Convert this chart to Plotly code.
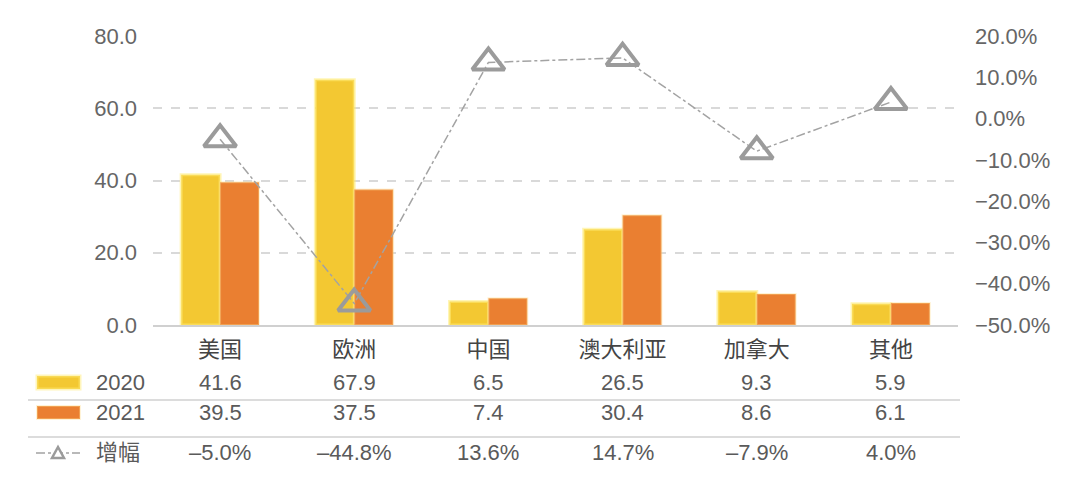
import plotly.graph_objects as go

regions = ['美国', '欧洲', '中国', '澳大利亚', '加拿大', '其他']
sales_2020 = [41.6, 67.9, 6.5, 26.5, 9.3, 5.9]
sales_2021 = [39.5, 37.5, 7.4, 30.4, 8.6, 6.1]
growth = [-5.0, -44.8, 13.6, 14.7, -7.9, 4.0]

YELLOW = '#F3C832'
ORANGE = '#EA7F31'
GRAY = '#A3A3A3'
TEXT = '#5A5A5A'
FONT = 'Liberation Sans, Noto Sans CJK SC, sans-serif'
FS = 22

# the page has an 8px body margin, so the figure is a bit smaller and shifted
OFF = 8
PL, PR, PT, PB = 153, 958, 36, 325   # plot area in page pixels

fig = go.Figure()
fig.add_trace(go.Bar(x=regions, y=sales_2020, name='2020', marker_color=YELLOW,
                     marker_line=dict(color='rgba(255,236,120,0.55)', width=3)))
fig.add_trace(go.Bar(x=regions, y=sales_2021, name='2021', marker_color=ORANGE,
                     marker_line=dict(color='rgba(255,220,140,0.35)', width=2)))
fig.add_trace(go.Scatter(x=regions, y=growth, name='增幅', yaxis='y2', mode='lines+markers',
                         line=dict(color=GRAY, width=1.5, dash='dashdot'),
                         marker=dict(symbol='triangle-up-open', size=28, color='#9B9B9B',
                                     line=dict(width=4, color='#9B9B9B'))))


def paper_y(py):
    return (PB - py) / (PB - PT)


def px_x(px):
    return (px - PL) / (PR - PL)


# table under the chart
rows = [
    (sales_2020, 382, lambda v: f'{v:.1f}'),
    (sales_2021, 412, lambda v: f'{v:.1f}'),
    (growth, 452, lambda v: f'{v:.1f}%'.replace('-', '–')),
]
annotations = []
for values, py, fmt in rows:
    for r, v in zip(regions, values):
        annotations.append(dict(x=r, xref='x', y=paper_y(py), yref='paper', text=fmt(v),
                                yanchor='middle', showarrow=False,
                                font=dict(size=FS, color=TEXT)))

for label, py in [('2020', 382), ('2021', 412), ('增幅', 452)]:
    annotations.append(dict(x=px_x(94), xref='paper', y=paper_y(py), yref='paper',
                            text=label, xanchor='left', yanchor='middle', showarrow=False,
                            font=dict(size=FS, color=TEXT)))

shapes = []
for py in [400, 437]:
    shapes.append(dict(type='line', xref='paper', yref='paper', x0=px_x(28), x1=px_x(960),
                       y0=paper_y(py), y1=paper_y(py), line=dict(color='#DCDCDC', width=2)))
shapes.append(dict(type='rect', xref='paper', yref='paper', x0=px_x(37), x1=px_x(80),
                   y0=paper_y(389), y1=paper_y(376), fillcolor=YELLOW,
                   line=dict(color='rgba(255,236,120,0.5)', width=3)))
shapes.append(dict(type='rect', xref='paper', yref='paper', x0=px_x(37), x1=px_x(80),
                   y0=paper_y(419), y1=paper_y(406), fillcolor=ORANGE,
                   line=dict(color='rgba(255,220,140,0.35)', width=2)))
shapes.append(dict(type='line', xref='paper', yref='paper', x0=px_x(36), x1=px_x(80),
                   y0=paper_y(453), y1=paper_y(453), line=dict(color=GRAY, width=1.5, dash='dashdot')))
tx, ty = 58, 453
shapes.append(dict(type='path', xref='paper', yref='paper',
                   path=f'M {px_x(tx-6)} {paper_y(ty+5)} L {px_x(tx+6)} {paper_y(ty+5)} '
                        f'L {px_x(tx)} {paper_y(ty-6)} Z',
                   fillcolor='white', line=dict(color='#9B9B9B', width=2.5)))

W, H = 1080 - 2 * OFF, 485 - 2 * OFF
fig.update_layout(
    width=W, height=H,
    margin=dict(l=PL - OFF, r=W + OFF - PR, t=PT - OFF, b=H + OFF - PB),
    paper_bgcolor='white', plot_bgcolor='white',
    font=dict(family=FONT, size=FS, color=TEXT),
    barmode='group', bargap=0.42, bargroupgap=0,
    showlegend=False,
    xaxis=dict(showline=True, linecolor='#D0D0D0', linewidth=2, ticks='',
               tickfont=dict(size=FS, color='#444444'), ticklabelstandoff=4),
    yaxis=dict(range=[0, 80], dtick=20, tickformat='.1f', showgrid=True,
               gridcolor='#D9D9D9', griddash='dash', gridwidth=1.5, zeroline=False,
               tickfont=dict(size=FS, color='#666666'), ticklabelstandoff=15),
    yaxis2=dict(range=[-50, 20], dtick=10, tickformat='.1f', ticksuffix='%', overlaying='y',
                side='right', showgrid=False, zeroline=False,
                tickfont=dict(size=FS, color='#666666'), ticklabelstandoff=16),
    annotations=annotations,
    shapes=shapes,
)

fig.write_html('out.html')
